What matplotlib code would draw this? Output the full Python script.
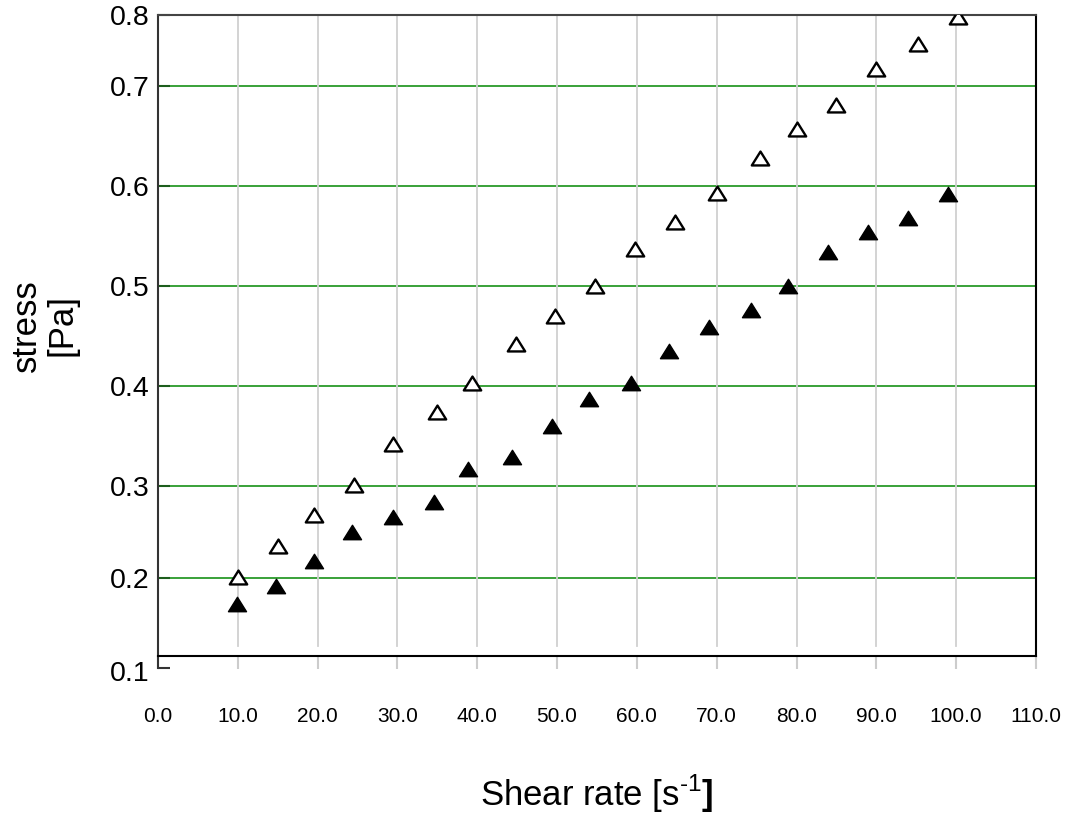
import matplotlib.pyplot as plt
import numpy as np
from matplotlib.path import Path

plt.rcParams['font.family'] = 'Liberation Sans'
plt.rcParams['mathtext.fontset'] = 'custom'
plt.rcParams['mathtext.rm'] = 'Liberation Sans'
plt.rcParams['mathtext.bf'] = 'Liberation Sans:bold'

# shear rate [1/s] vs stress [Pa]
rate_open = [10.0, 15.0, 19.5, 24.5, 29.5, 34.9, 39.4, 44.9, 49.75, 54.75,
             59.75, 64.75, 70.0, 75.4, 80.1, 84.9, 90.0, 95.25, 100.25]
stress_open = [0.201, 0.235, 0.268, 0.301, 0.342, 0.374, 0.403, 0.442, 0.470, 0.500,
               0.537, 0.564, 0.593, 0.628, 0.657, 0.681, 0.724, 0.759, 0.797]

rate_filled = [9.9, 14.75, 19.5, 24.25, 29.5, 34.6, 38.9, 44.4, 49.4, 54.0,
               59.25, 64.0, 69.0, 74.25, 78.9, 83.9, 88.9, 94.0, 99.0]
stress_filled = [0.171, 0.191, 0.218, 0.250, 0.266, 0.283, 0.317, 0.329, 0.360, 0.387,
                 0.403, 0.435, 0.459, 0.476, 0.500, 0.534, 0.554, 0.568, 0.592]

x_ticks = [0, 10, 20, 30, 40, 50, 60, 70, 80, 90, 100, 110]
x_labels = ['0.0', '10.0', '20.0', '30.0', '40.0', '50.0', '60.0', '70.0',
            '80.0', '90.0', '100.0', '110.0']
y_ticks = [0.2, 0.3, 0.4, 0.5, 0.6, 0.7, 0.8]
y_labels = ['0.2', '0.3', '0.4', '0.5', '0.6', '0.7', '0.8']

# the stress axis is not evenly spaced: knot value -> height above frame bottom (px)
stress_knots = [0.1, 0.2, 0.3, 0.4, 0.5, 0.6, 0.7, 0.8]
height_knots = [-12, 78, 170, 270, 370, 470, 570, 641]


def to_height(v):
    return np.interp(v, stress_knots, height_knots)


def from_height(h):
    return np.interp(h, height_knots, stress_knots)


tri = Path([(-1, -0.8), (1, -0.8), (0, 0.8), (0, 0)], closed=True)

fig = plt.figure(figsize=(10.78, 8.17), dpi=100)
ax = fig.add_axes([158 / 1078, 161 / 817, 878 / 1078, 641 / 817])
ax.set_yscale('function', functions=(to_height, from_height))
ax.set_xlim(0, 110)
ax.set_ylim(from_height(0), 0.8)

# grid
for v in y_ticks[:-1]:
    ax.axhline(v, color='#2a9a2a', lw=1.3, zorder=1)
for x in x_ticks[1:-1]:
    ax.axvline(x, ymin=0.015, ymax=1, color='#d0d0d0', lw=1.3, zorder=1)

ax.plot(rate_open, stress_open, linestyle='none', marker=tri, markersize=12.5,
        markerfacecolor='white', markeredgecolor='black', markeredgewidth=1.7, zorder=3)
ax.plot(rate_filled, stress_filled, linestyle='none', marker=tri, markersize=13,
        markerfacecolor='black', markeredgecolor='black', markeredgewidth=1, zorder=3)

ax.set_xticks(x_ticks)
ax.set_xticklabels(x_labels, fontsize=15)
ax.set_yticks(y_ticks)
ax.set_yticklabels(y_labels, fontsize=20.5)
ax.tick_params(axis='y', direction='in', length=8.5, width=1.5, color='#1d5e1d', pad=6)
ax.tick_params(axis='x', direction='out', length=9, width=1.5, color='#cccccc', pad=28)
ticks = ax.xaxis.get_major_ticks()
ticks[0].tick1line.set_color('#333333')
ticks[-1].tick1line.set_color('black')

# lowest stress label sits below the frame, with its own little tick
ax.annotate('0.1', xy=(0, 0.1), xycoords=ax.get_yaxis_transform(), xytext=(-6, -4),
            textcoords='offset points', ha='right', va='center', fontsize=20.5,
            annotation_clip=False)
ax.plot([0, 12 / 878], [0.1, 0.1], transform=ax.get_yaxis_transform(),
        color='#333333', lw=1.5, clip_on=False, solid_capstyle='butt')

ax.spines['left'].set_bounds(0.1, 0.8)
ax.spines['left'].set_color('#333333')
ax.spines['top'].set_color('#444444')
ax.spines['bottom'].set_color('black')
ax.spines['right'].set_color('black')
for s in ax.spines.values():
    s.set_linewidth(1.5)

ax.set_ylabel('stress\n[Pa]', fontsize=25, va='center', ha='center',
              multialignment='center', linespacing=1.1)
ax.yaxis.set_label_coords(-0.13, 0.516)
ax.set_xlabel(r'Shear rate [s$^{\text{-1}}$$\mathbf{]}$', fontsize=25, va='center')
ax.xaxis.set_label_coords(0.5, -0.215)

fig.savefig('out.png', dpi=100)
